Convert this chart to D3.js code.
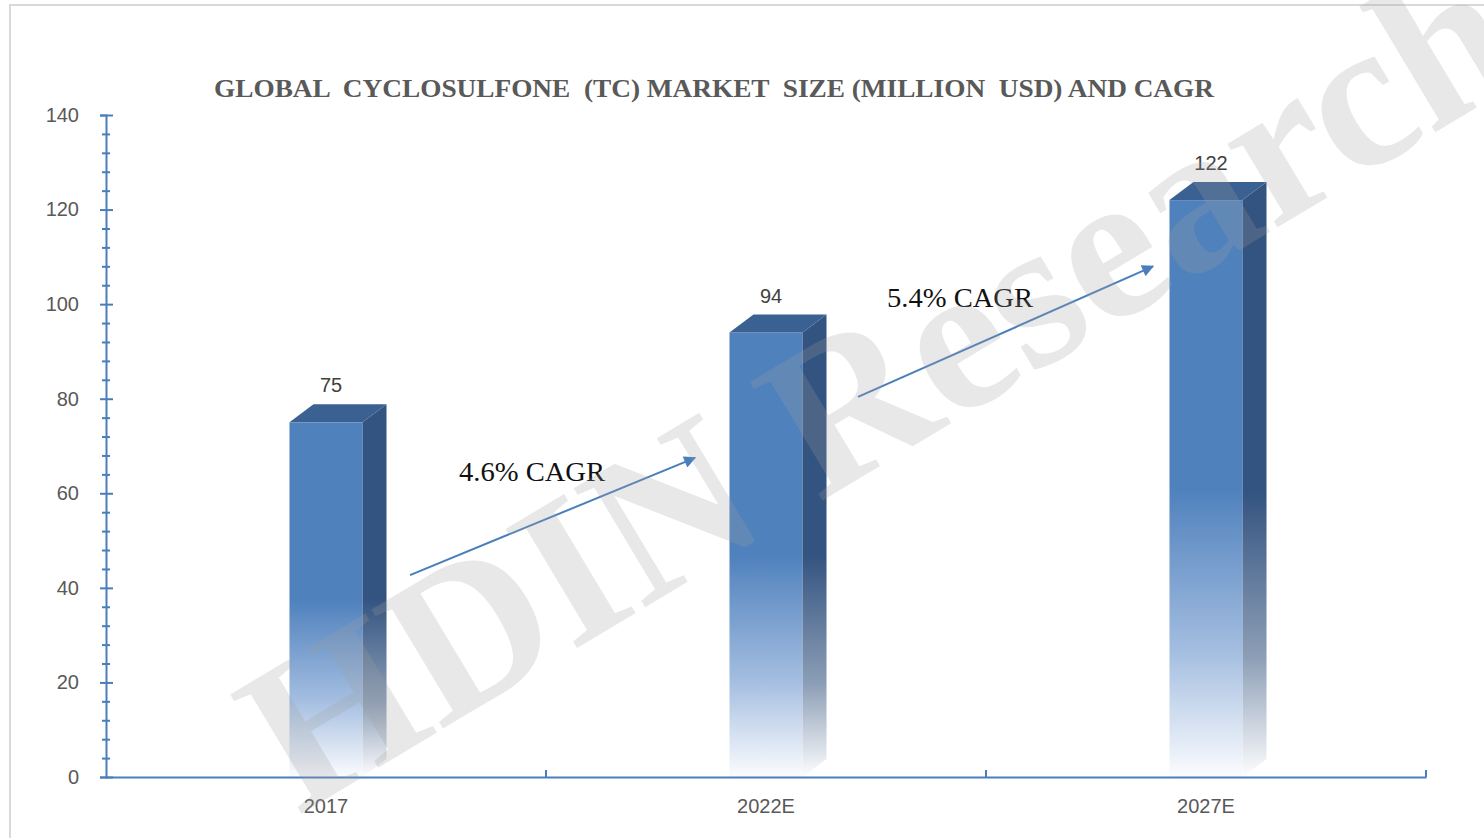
<!DOCTYPE html>
<html>
<head>
<meta charset="utf-8">
<script src="https://cdn.jsdelivr.net/npm/d3@7"></script>
<style>
  body { margin: 0; background: #fff; }
  svg { display: block; }
</style>
</head>
<body>
<div id="chart"></div>
<script>
// data
const years = ["2017", "2022E", "2027E"];
const sizes = [75, 94, 122];
const yTicks = [0, 20, 40, 60, 80, 100, 120, 140];
const cagrLabels = ["4.6% CAGR", "5.4% CAGR"];
// arrow ends in data space: [category, offset from band centre in px, value]
const cagrArrows = [
    [["2017", 84, 42.7], ["2022E", -71, 67.5]],
    [["2022E", 92, 80.4], ["2027E", -53, 108]]
];
const cagrText = [["2017", 133, 62.6], ["2022E", 121, 99.4]];

const W = 1484, H = 838;
const margin = { top: 115, right: 58, bottom: 61, left: 106 };

const svg = d3.select("#chart").append("svg")
    .attr("width", W)
    .attr("height", H);

const defs = svg.append("defs");

const front = defs.append("linearGradient")
    .attr("id", "front").attr("x1", 0).attr("y1", 0).attr("x2", 0).attr("y2", 1);
front.append("stop").attr("offset", "0%").attr("stop-color", "#4f81bd");
front.append("stop").attr("offset", "50%").attr("stop-color", "#4f81bd");
front.append("stop").attr("offset", "78%").attr("stop-color", "#a3bde0");
front.append("stop").attr("offset", "100%").attr("stop-color", "#fbfcfe");

const side = defs.append("linearGradient")
    .attr("id", "side").attr("x1", 0).attr("y1", 0).attr("x2", 0).attr("y2", 1);
side.append("stop").attr("offset", "0%").attr("stop-color", "#335380");
side.append("stop").attr("offset", "52%").attr("stop-color", "#335380");
side.append("stop").attr("offset", "80%").attr("stop-color", "#8d9fb7");
side.append("stop").attr("offset", "100%").attr("stop-color", "#fdfdfe");

defs.append("marker")
    .attr("id", "arrow")
    .attr("viewBox", "0 0 10 10")
    .attr("refX", 9).attr("refY", 5)
    .attr("markerWidth", 7).attr("markerHeight", 6)
    .attr("markerUnits", "strokeWidth")
    .attr("orient", "auto")
    .append("path")
    .attr("d", "M0,0 L10,5 L0,10 z")
    .attr("fill", "#4a7ebb");

// frame
svg.append("rect")
    .attr("x", 10).attr("y", 5)
    .attr("width", W).attr("height", H)
    .attr("fill", "none")
    .attr("stroke", "#d9d9d9")
    .attr("stroke-width", 2);

const x = d3.scaleBand()
    .domain(years)
    .range([margin.left, W - margin.right])
    .padding(0);

const y = d3.scaleLinear()
    .domain([0, 140])
    .range([H - margin.bottom, margin.top]);

const barW = x.bandwidth() * 0.166;
const dx = 24, dy = 18;
const cx = d => x(d) + x.bandwidth() / 2;

// title
svg.append("text")
    .attr("x", 714)
    .attr("y", 97)
    .attr("text-anchor", "middle")
    .attr("textLength", 1000)
    .attr("lengthAdjust", "spacingAndGlyphs")
    .style("font-family", "'Liberation Serif', 'Times New Roman', serif")
    .style("font-weight", "bold")
    .style("font-size", "25px")
    .style("fill", "#595959")
    .style("white-space", "pre")
    .text("GLOBAL  CYCLOSULFONE  (TC) MARKET  SIZE (MILLION  USD) AND CAGR");

// bars
const data = years.map((d, i) => ({ year: d, value: sizes[i] }));
const bars = svg.append("g").selectAll("g").data(data).enter().append("g");

bars.append("rect")
    .attr("x", d => cx(d.year) - barW / 2)
    .attr("y", d => y(d.value))
    .attr("width", barW)
    .attr("height", d => y(0) - y(d.value))
    .attr("fill", "url(#front)");

bars.append("path")
    .attr("d", d => {
        const x0 = cx(d.year) + barW / 2, y0 = y(d.value), y1 = y(0);
        return `M${x0},${y0} L${x0 + dx},${y0 - dy} L${x0 + dx},${y1 - dy} L${x0},${y1} Z`;
    })
    .attr("fill", "url(#side)");

bars.append("path")
    .attr("d", d => {
        const x0 = cx(d.year) - barW / 2, y0 = y(d.value);
        return `M${x0},${y0} L${x0 + dx},${y0 - dy} L${x0 + barW + dx},${y0 - dy} L${x0 + barW},${y0} Z`;
    })
    .attr("fill", "#3b6192");

bars.append("text")
    .attr("x", d => cx(d.year) + 5)
    .attr("y", d => y(d.value) - dy - 12)
    .attr("text-anchor", "middle")
    .style("font-family", "'Liberation Sans', Arial, sans-serif")
    .style("font-size", "20px")
    .style("fill", "#404040")
    .text(d => d.value);

// y axis, major ticks cross the line
const yAxis = svg.append("g")
    .attr("transform", `translate(${margin.left},0)`)
    .call(d3.axisLeft(y).tickValues(yTicks).tickSize(6).tickPadding(21));
yAxis.select(".domain").attr("stroke", "#4a7ebb").attr("stroke-width", 2);
yAxis.selectAll(".tick line").attr("stroke", "#4a7ebb").attr("stroke-width", 2).attr("x1", 7);
yAxis.selectAll(".tick text")
    .style("font-family", "'Liberation Sans', Arial, sans-serif")
    .style("font-size", "20px")
    .style("fill", "#595959");

const minor = d3.range(0, 141, 4).filter(v => v % 20 !== 0);
const yMinor = svg.append("g")
    .attr("transform", `translate(${margin.left},0)`)
    .call(d3.axisLeft(y).tickValues(minor).tickSize(4).tickFormat(""));
yMinor.select(".domain").remove();
yMinor.selectAll(".tick line").attr("stroke", "#4a7ebb").attr("stroke-width", 2).attr("x1", 4);

// x axis, ticks on the band edges
const xAxis = svg.append("g")
    .attr("transform", `translate(0,${y(0)})`)
    .call(d3.axisBottom(x).tickSize(0).tickPadding(22));
xAxis.select(".domain").attr("stroke", "#4a7ebb").attr("stroke-width", 2);
xAxis.selectAll(".tick text")
    .style("font-family", "'Liberation Sans', Arial, sans-serif")
    .style("font-size", "20px")
    .style("fill", "#595959");
xAxis.selectAll(".edge")
    .data(years.slice(1).map(d => x(d)).concat([W - margin.right]))
    .enter().append("line")
    .attr("x1", d => d).attr("x2", d => d)
    .attr("y1", 0).attr("y2", -7)
    .attr("stroke", "#4a7ebb")
    .attr("stroke-width", 2);

// CAGR arrows and labels
const pt = p => [cx(p[0]) + p[1], y(p[2])];
svg.selectAll(".cagr-arrow")
    .data(cagrArrows)
    .enter().append("line")
    .attr("class", "cagr-arrow")
    .attr("x1", d => pt(d[0])[0]).attr("y1", d => pt(d[0])[1])
    .attr("x2", d => pt(d[1])[0]).attr("y2", d => pt(d[1])[1])
    .attr("stroke", "#4a7ebb")
    .attr("stroke-width", 2)
    .attr("marker-end", "url(#arrow)");

svg.selectAll(".cagr-label")
    .data(cagrText)
    .enter().append("text")
    .attr("class", "cagr-label")
    .attr("x", d => pt(d)[0]).attr("y", d => pt(d)[1])
    .attr("textLength", 146)
    .attr("lengthAdjust", "spacingAndGlyphs")
    .style("font-family", "'Liberation Serif', 'Times New Roman', serif")
    .style("font-size", "28px")
    .style("fill", "#111")
    .text((d, i) => cagrLabels[i]);

// watermark
svg.append("text")
    .attr("transform", "translate(915,445) rotate(-31)")
    .attr("text-anchor", "middle")
    .style("font-family", "'Liberation Serif', 'Times New Roman', serif")
    .style("font-weight", "bold")
    .style("font-size", "212px")
    .style("fill", "rgb(160,160,160)")
    .style("fill-opacity", 0.24)
    .text("HDIN Research");
</script>
</body>
</html>
